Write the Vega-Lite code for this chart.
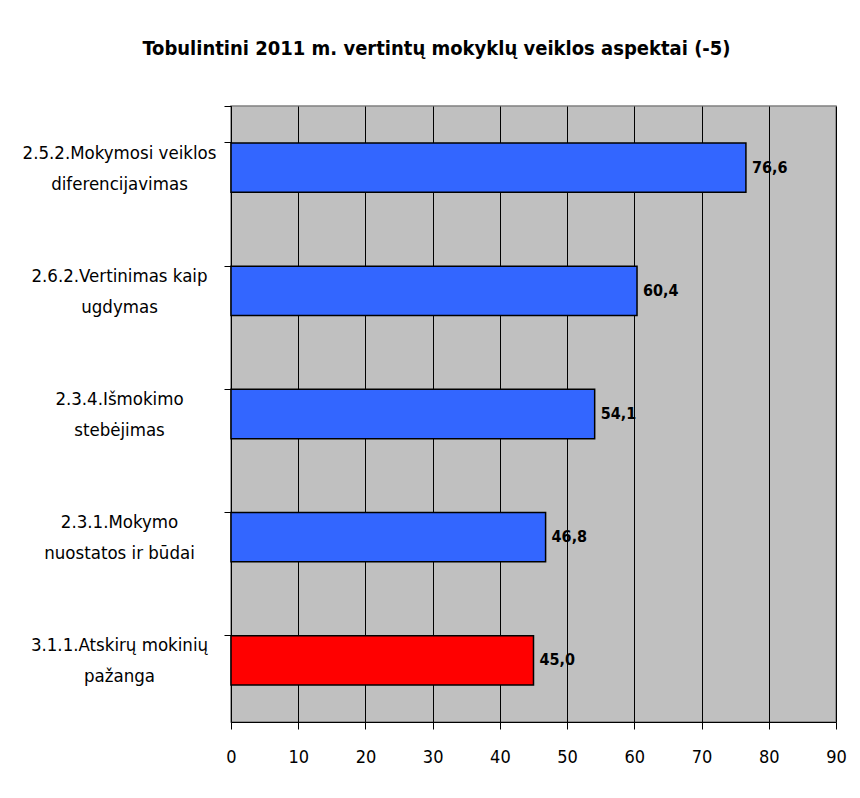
{
  "$schema": "https://vega.github.io/schema/vega-lite/v6.json",
  "width": 605,
  "height": 616,
  "autosize": {"type": "none"},
  "padding": {"left": 231, "top": 106, "right": 24, "bottom": 76},
  "background": "white",
  "title": {
    "text": "Tobulintini 2011 m. vertintų mokyklų veiklos aspektai (-5)",
    "font": "'Liberation Sans Narrow', 'Arial Narrow', 'DejaVu Sans Condensed', 'Liberation Sans'",
    "fontSize": 20,
    "fontWeight": "bold",
    "color": "#000000",
    "anchor": "middle",
    "frame": "group",
    "baseline": "alphabetic",
    "offset": 22,
    "dx": -97
  },
  "data": {
    "values": [
      {"aspect": "2.5.2.Mokymosi veiklos|diferencijavimas", "value": 76.6, "group": "kiti"},
      {"aspect": "2.6.2.Vertinimas kaip|ugdymas", "value": 60.4, "group": "kiti"},
      {"aspect": "2.3.4.Išmokimo|stebėjimas", "value": 54.1, "group": "kiti"},
      {"aspect": "2.3.1.Mokymo|nuostatos ir būdai", "value": 46.8, "group": "kiti"},
      {"aspect": "3.1.1.Atskirų mokinių|pažanga", "value": 45.0, "group": "pazanga"}
    ]
  },
  "encoding": {
    "y": {
      "field": "aspect",
      "type": "nominal",
      "sort": null,
      "scale": {"paddingInner": 0.6, "paddingOuter": 0.3},
      "axis": {
        "title": null,
        "labelExpr": "split(datum.label, '|')",
        "labelFont": "'Liberation Sans Narrow', 'Arial Narrow', 'DejaVu Sans Condensed', 'Liberation Sans'",
        "labelFontSize": 18.5,
        "labelColor": "#000000",
        "labelAlign": "center",
        "labelBaseline": "middle",
        "labelLineHeight": 31,
        "labelOffset": -15,
        "labelPadding": 105,
        "labelLimit": 300,
        "bandPosition": 0,
        "tickExtra": true,
        "tickSize": 7,
        "tickColor": "#000000",
        "domainColor": "#000000",
        "grid": false
      }
    },
    "x": {
      "field": "value",
      "type": "quantitative",
      "scale": {"domain": [0, 90], "nice": false},
      "axis": {
        "title": null,
        "values": [0, 10, 20, 30, 40, 50, 60, 70, 80, 90],
        "labelFont": "'Liberation Sans Narrow', 'Arial Narrow', 'DejaVu Sans Condensed', 'Liberation Sans'",
        "labelFontSize": 18,
        "labelColor": "#000000",
        "labelPadding": 19,
        "labelFlush": false,
        "tickSize": 7,
        "tickColor": "#000000",
        "domainColor": "#000000",
        "grid": true,
        "gridColor": "#000000",
        "gridOpacity": 1
      }
    }
  },
  "layer": [
    {
      "mark": {"type": "bar", "stroke": "#000000", "strokeWidth": 1.5},
      "encoding": {
        "color": {
          "field": "group",
          "type": "nominal",
          "scale": {"domain": ["kiti", "pazanga"], "range": ["#3366FF", "#FF0000"]},
          "legend": null
        }
      }
    },
    {
      "mark": {
        "type": "text",
        "align": "left",
        "baseline": "middle",
        "dx": 6,
        "font": "'Liberation Sans Narrow', 'Arial Narrow', 'DejaVu Sans Condensed', 'Liberation Sans'",
        "fontSize": 16,
        "fontWeight": "bold",
        "color": "#000000"
      },
      "encoding": {
        "text": {"field": "value", "type": "quantitative", "format": ".1f"}
      }
    }
  ],
  "config": {
    "locale": {
      "number": {"decimal": ",", "thousands": " ", "grouping": [3], "currency": ["", " €"]}
    },
    "view": {"fill": "#C0C0C0", "stroke": "#808080", "strokeWidth": 1.5}
  }
}
